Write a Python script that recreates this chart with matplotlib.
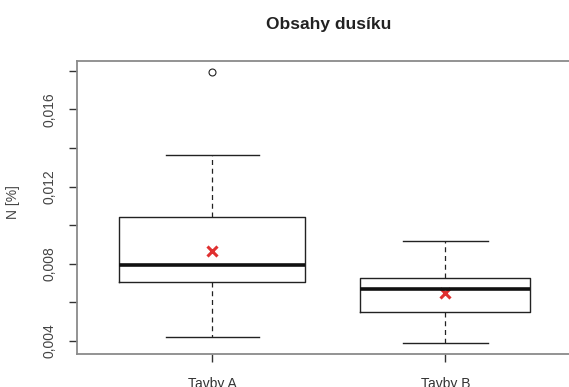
import matplotlib.pyplot as plt
from matplotlib.ticker import FixedLocator

plt.rcParams['font.family'] = ['Liberation Sans', 'DejaVu Sans']

groups = ['Tavby A', 'Tavby B']
q1 = [0.00704, 0.00552]
med = [0.00794, 0.00668]
q3 = [0.01041, 0.00728]
whislo = [0.00421, 0.00388]
whishi = [0.01364, 0.00920]
fliers = [[0.01795], []]
means = [0.00868, 0.00650]
box_w = [0.80, 0.73]  # varwidth-style boxes

stats = []
for i in range(len(groups)):
    stats.append(dict(label=groups[i], q1=q1[i], med=med[i], q3=q3[i],
                      whislo=whislo[i], whishi=whishi[i], fliers=fliers[i]))

fig = plt.figure(figsize=(5.69, 3.87), dpi=100)
ax = fig.add_axes([77 / 569, 1 - 354.3 / 387, 503.6 / 569, 293.6 / 387])

pos = [1, 2]
ax.bxp(stats, positions=pos, widths=box_w, showfliers=True,
       boxprops=dict(color='#222222', linewidth=1.0),
       medianprops=dict(color='#111111', linewidth=2.6, solid_capstyle='butt'),
       whiskerprops=dict(color='#222222', linewidth=0.9, linestyle=(0, (4, 3))),
       capprops=dict(color='#222222', linewidth=1.0),
       capwidths=[w * 0.5 for w in box_w],
       flierprops=dict(marker='o', markersize=5, markerfacecolor='none',
                       markeredgecolor='#222222', markeredgewidth=0.8))

ax.plot(pos, means, linestyle='none', marker='x', color='#e03030',
        markersize=6.5, markeredgewidth=2.2)

ax.set_xlim(0.42, 2.58)
ax.set_ylim(0.00331, 0.01852)

ax.yaxis.set_major_locator(FixedLocator([0.004, 0.008, 0.012, 0.016]))
ax.yaxis.set_minor_locator(FixedLocator([0.006, 0.010, 0.014, 0.018]))
ax.set_yticklabels(['0,004', '0,008', '0,012', '0,016'], rotation=90,
                   va='center', color='#444444', fontsize=10)
ax.set_xticks(pos)
ax.set_xticklabels(groups, color='#333333', fontsize=10)

ax.tick_params(axis='y', which='both', length=6, width=1.0, color='#333333', pad=9)
ax.tick_params(axis='x', length=6, width=1.0, color='#333333', pad=10)

for side in ['top', 'right', 'bottom', 'left']:
    ax.spines[side].set_color('#8a8a8a')
    ax.spines[side].set_linewidth(1.3)

fig.text(13 / 569, 1 - 202 / 387, 'N [%]', rotation=90, ha='center', va='center',
         color='#444444', fontsize=10)
fig.text(328.5 / 569, 1 - 24 / 387, 'Obsahy dusíku', ha='center', va='center',
         fontsize=12.5, fontweight='bold', color='#222222')

fig.savefig('out.png', dpi=100)
